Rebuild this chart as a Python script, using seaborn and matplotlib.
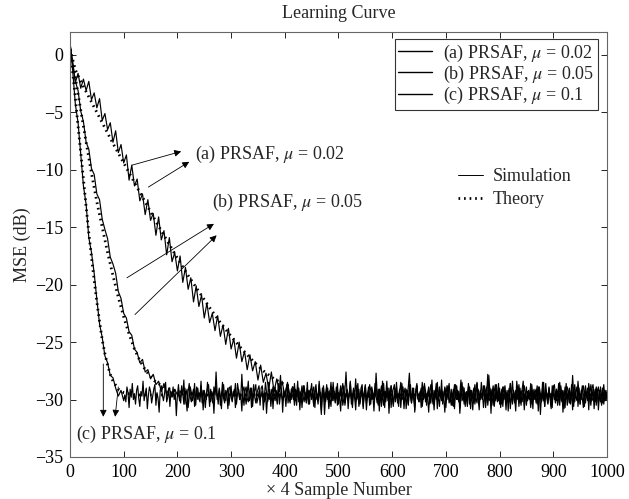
import numpy as np
import pandas as pd
import matplotlib
matplotlib.use("Agg")
import matplotlib.pyplot as plt
import seaborn as sns
from matplotlib.lines import Line2D

# ---------------- data ----------------
# transient parts (every 5 samples), steady-state parts (every 2 samples)
x_c = np.concatenate([np.arange(0, 101, 5), np.arange(102, 1001, 2)])
x_b = np.concatenate([np.arange(0, 201, 5), np.arange(202, 1001, 2)])
x_a = np.concatenate([np.arange(0, 451, 5), np.arange(452, 1001, 2)])

sim_c = [1.2, -1.4, -4.3, -5.9, -8.6, -11.4, -13.0, -15.9, -17.2, -19.0,
         -21.3, -23.4, -24.6, -26.2, -26.8, -27.9, -28.1, -29.0, -29.7, -29.2, -30.1,
         -29.6,-30.2,-28.9,-29.4,-30.7,-29.1,-29.8,-28.6,-30.0,-29.5,-30.4,-29.2,-28.8,-29.9,-30.6,-29.3,-29.7,-28.4,-30.1,-29.5,-29.0,-30.8,-29.6,-28.9,-29.3,
         -30.3,-29.7,-29.1,-28.7,-30.5,-29.4,-29.9,-31.1,-29.2,-28.8,-29.6,-30.1,-29.5,-28.5,-30.2,-29.8,-29.0,-30.6,-29.3,-29.7,-28.9,-30.0,-29.4,-31.4,-29.6,
         -28.7,-29.9,-30.3,-29.2,-29.6,-28.3,-30.4,-29.5,-29.1,-30.7,-29.8,-28.9,-29.4,-30.1,-29.7,-28.6,-30.5,-29.3,-29.0,-29.9,-30.2,-28.8,-29.5,-30.9,-29.2,
         -29.7,-30.0,-28.5,-29.4,-30.6,-29.1,-29.8,-30.3,-28.9,-29.6,-27.6,-29.5,-30.4,-29.0,-29.7,-30.8,-29.3,-28.7,-29.9,-30.1,-29.4,-29.0,-30.5,-29.6,-28.8,
         -30.2,-29.5,-29.1,-30.7,-29.8,-28.6,-29.3,-30.0,-29.6,-31.0,-29.2,-28.9,-29.7,-30.4,-29.4,-28.4,-30.1,-29.8,-29.0,-30.6,-29.5,-29.2,-28.7,-30.3,-29.9,
         -29.3,-30.5,-29.0,-28.8,-29.6,-30.2,-29.4,-31.2,-29.7,-28.5,-30.0,-29.5,-29.1,-30.8,-29.3,-28.9,-29.8,-30.4,-29.6,-29.0,-27.9,-29.7,-30.1,-29.2,-29.5,
         -30.6,-29.4,-28.7,-29.9,-30.3,-29.1,-29.6,-30.0,-28.6,-29.8,-30.5,-29.3,-29.0,-30.9,-29.5,-28.8,-29.7,-30.2,-29.4,-29.9,-28.5,-30.4,-29.6,-29.1,-30.0,
         -29.2,-28.9,-30.7,-29.5,-29.8,-30.1,-28.4,-29.6,-30.3,-29.0,-29.4,-31.3,-29.7,-28.7,-30.0,-29.3,-29.9,-30.6,-29.1,-28.9,-29.5,-30.2,-29.8,-28.6,-30.4,
         -29.6,-29.0,-30.1,-29.4,-28.8,-30.5,-29.7,-29.2,-30.8,-29.5,-28.5,-29.9,-30.3,-29.1,-29.6,-28.2,-30.0,-29.4,-30.6,-29.8,-29.0,-28.7,-30.2,-29.5,-29.3,
         -30.9,-29.6,-28.9,-29.8,-30.4,-29.2,-29.5,-30.0,-28.6,-29.7,-30.3,-29.1,-31.0,-29.4,-28.8,-29.9,-30.5,-29.3,-29.6,-28.4,-30.1,-29.7,-29.0,-30.7,-29.5,
         -29.1,-28.7,-30.2,-29.6,-29.9,-30.6,-29.3,-28.5,-29.8,-30.0,-29.4,-29.0,-30.8,-29.7,-28.9,-27.7,-29.5,-30.3,-29.2,-29.8,-30.5,-29.1,-28.6,-29.9,-30.1,
         -29.4,-30.7,-29.6,-29.0,-28.8,-30.2,-29.5,-29.9,-31.1,-29.3,-28.7,-29.7,-30.4,-29.2,-29.6,-30.0,-28.5,-29.8,-30.6,-29.4,-29.1,-30.3,-29.7,-28.9,-29.5,
         -30.0,-29.3,-28.6,-29.9,-30.5,-29.6,-29.1,-30.8,-29.4,-28.8,-29.7,-30.2,-29.5,-28.3,-30.1,-29.8,-29.0,-30.6,-29.3,-29.6,-28.9,-30.4,-29.2,-29.8,-30.9,
         -29.5,-28.7,-29.9,-30.3,-29.1,-29.6,-30.0,-28.5,-29.4,-30.7,-29.8,-29.2,-28.9,-30.5,-29.6,-29.0,-31.2,-29.4,-28.8,-29.7,-30.1,-29.3,-29.9,-28.6,-30.4,
         -29.7,-29.1,-30.6,-29.5,-28.8,-29.9,-30.2,-29.4,-29.0,-30.8,-29.6,-28.4,-29.8,-30.3,-29.2,-29.5,-30.0,-28.7,-29.7,-30.5,-29.3,-29.1,-30.9,-29.6,-28.9,
         -30.1,-29.4,-29.8,-28.6,-30.4,-29.2,-29.7,-30.0,-29.5,-28.8,-31.0,-29.3,-29.9,-30.2,-28.5,-29.6,-30.6,-29.1,-29.4,-30.3,-28.9,-29.8,-29.5,-30.7,-29.0,
         -28.7,-29.6,-30.1,-29.3,-29.9,-30.5,-28.8,-29.5,-29.2,-30.8,-29.7,-28.6,-30.0,-29.4,-29.1,-30.4,-29.8,-27.9,-29.6,-30.2,-29.3,-28.9,-30.6,-29.5,-29.7,
         -30.0,-29.2,-28.8,-29.7,-30.3,-29.5,-29.0,-30.9,-29.4,-28.7,-29.8,-30.1,-29.6,-29.1,-30.5,-29.3,-28.9,-29.9,-30.2,-29.5,-29.0,-30.4,-29.7,-29.2,-29.6]

sim_b = [0.9, -0.6, -2.3, -3.1, -4.9, -5.8, -7.6, -8.2, -9.9, -10.4,
         -12.1, -12.6, -14.3, -15.2, -16.0, -17.6, -18.2, -19.0, -20.6, -21.2,
         -22.5, -22.9, -24.1, -24.4, -25.6, -25.9, -26.8, -26.5, -27.6, -27.4,
         -28.2, -27.8, -28.7, -28.4, -29.3, -28.6, -29.5, -29.0, -29.8, -29.1, -29.6,
         -29.4,-30.1,-29.7,-28.8,-29.5,-30.4,-29.0,-29.9,-31.0,-29.3,-28.6,-29.8,-30.2,-29.5,-29.1,-30.6,-29.6,-28.9,-30.0,-29.4,-29.8,-28.4,-30.3,-29.2,-29.7,
         -30.7,-29.5,-29.0,-28.7,-29.9,-30.2,-29.3,-29.6,-31.2,-29.4,-28.8,-30.0,-29.7,-29.1,-30.5,-29.6,-28.5,-29.9,-30.3,-29.2,-29.5,-30.8,-29.0,-28.9,-29.8,
         -30.1,-29.3,-29.7,-28.6,-30.4,-29.5,-29.1,-30.0,-29.8,-27.8,-29.6,-30.5,-29.2,-28.9,-29.9,-30.2,-29.4,-29.0,-30.7,-29.6,-28.7,-29.8,-30.3,-29.5,-29.1,
         -28.8,-30.0,-29.6,-29.3,-30.9,-29.7,-28.5,-29.4,-30.2,-29.8,-29.1,-30.6,-29.5,-28.9,-29.7,-30.1,-29.2,-29.9,-28.6,-30.4,-29.6,-29.0,-31.1,-29.4,-29.8,
         -29.2,-28.7,-30.3,-29.6,-29.9,-30.0,-28.9,-29.5,-30.5,-29.1,-29.7,-28.4,-30.2,-29.8,-29.3,-30.7,-29.5,-28.8,-29.6,-30.1,-29.0,-29.9,-30.4,-29.3,-28.6,
         -29.8,-30.6,-29.4,-29.1,-30.0,-29.6,-28.7,-29.9,-31.3,-29.5,-29.0,-30.2,-29.7,-28.9,-29.4,-30.8,-29.2,-29.8,-30.1,-28.5,-29.6,-30.3,-29.5,-29.1,-30.0,
         -29.7,-28.8,-29.4,-30.5,-29.9,-29.2,-27.6,-29.6,-30.1,-29.5,-28.9,-30.4,-29.8,-29.0,-29.7,-30.9,-29.3,-28.6,-29.9,-30.2,-29.6,-29.1,-30.6,-29.4,-28.8,
         -30.3,-29.5,-29.8,-28.7,-29.2,-30.0,-29.6,-31.0,-29.4,-28.9,-29.7,-30.5,-29.1,-29.9,-30.2,-28.4,-29.5,-30.7,-29.3,-29.8,-29.0,-30.1,-29.6,-28.8,-29.4,
         -30.6,-29.7,-29.2,-28.9,-30.3,-29.5,-29.9,-30.0,-28.6,-29.4,-30.8,-29.6,-29.1,-29.8,-30.4,-29.3,-28.7,-30.1,-29.7,-29.0,-31.1,-29.5,-28.8,-29.9,-30.2,
         -29.3,-29.6,-28.5,-30.0,-29.8,-29.2,-30.5,-29.4,-28.9,-29.7,-30.3,-29.1,-29.6,-30.9,-29.5,-28.6,-29.9,-30.1,-29.3,-29.8,-28.3,-30.4,-29.6,-29.0,-30.7,
         -29.5,-28.8,-29.9,-30.2,-29.4,-29.7,-30.6,-29.1,-28.7,-29.6,-30.0,-29.3,-31.2,-29.8,-29.0,-28.9,-30.4,-29.5,-29.7,-30.1,-28.6,-29.4,-30.8,-29.2,-29.9,
         -30.3,-29.6,-29.0,-28.5,-29.8,-30.5,-29.3,-29.7,-30.0,-29.2,-28.8,-30.7,-29.5,-29.9,-27.9,-29.4,-30.2,-29.6,-29.1,-30.6,-29.8,-28.7,-29.5,-30.1,-29.3,
         -29.7,-30.4,-29.0,-28.9,-29.6,-30.9,-29.4,-29.8,-30.2,-28.6,-29.5,-30.0,-29.2,-29.7,-31.0,-29.3,-28.8,-29.9,-30.3,-29.6,-29.1,-28.4,-30.5,-29.5,-29.8,
         -30.1,-29.2,-29.6,-30.7,-28.7,-29.9,-30.0,-29.4,-29.1,-30.4,-29.7,-28.9,-29.5,-30.2,-29.8,-28.5,-30.6,-29.3,-29.6,-30.0,-29.0,-29.9,-30.8,-29.4,-28.8,
         -29.6,-30.3,-29.1,-29.8,-28.6,-30.1,-29.5,-29.2,-31.1,-29.7,-28.9,-29.4,-30.5,-29.9,-29.0,-30.2,-28.7,-29.6,-30.6,-29.3,-29.8,-30.0,-28.4,-29.5,-30.4,
         -29.2,-29.9,-30.7,-29.4,-28.8,-29.6,-30.1,-29.3,-29.8,-30.5,-29.0,-28.7,-29.7,-30.2,-29.5,-29.1,-30.9,-29.6,-28.9,-29.8,-30.3,-29.4,-29.2,-30.0,-29.6]

sim_a = [1.0, -0.8, -2.4, -1.6, -2.9, -2.1, -3.1, -2.3, -3.9, -3.3,
         -4.6, -3.8, -5.7, -5.1, -6.5, -5.9, -7.6, -6.6, -8.5, -7.8,
         -9.4, -8.7, -10.9, -9.6, -11.4, -10.8, -12.7, -12.1, -13.9, -12.6,
         -14.4, -13.8, -15.7, -14.1, -16.1, -15.3, -17.4, -15.9, -18.0, -17.2,
         -18.8, -17.5, -19.8, -18.5, -20.4, -19.4, -21.5, -20.1, -21.9, -20.9,
         -22.9, -21.6, -23.3, -22.5, -24.0, -22.7, -24.5, -23.5, -25.2, -23.8,
         -25.6, -24.7, -26.4, -25.0, -26.7, -25.8, -27.4, -26.1, -27.5, -26.7,
         -28.3, -27.0, -28.5, -27.7, -29.1, -27.6, -29.3, -28.2, -29.3, -28.4,
         -29.7, -28.5, -29.8, -28.9, -30.1, -29.0, -30.0, -28.8, -30.3, -29.2, -29.8,
         -29.5,-30.0,-29.3,-28.7,-29.8,-30.4,-29.1,-29.6,-30.9,-29.4,-28.8,-29.9,-30.2,-29.6,-29.0,-30.6,-29.5,-28.5,-29.7,-30.1,-29.3,-29.9,-28.9,-30.5,-29.4,
         -29.8,-31.0,-29.2,-28.6,-29.7,-30.3,-29.5,-29.1,-30.0,-29.6,-28.4,-29.9,-30.7,-29.3,-29.8,-30.2,-28.8,-29.5,-29.1,-30.4,-29.7,-29.0,-30.8,-29.4,-28.7,
         -30.1,-29.6,-29.2,-30.5,-29.8,-28.9,-29.4,-30.0,-29.7,-27.7,-29.5,-30.3,-29.1,-29.9,-30.6,-29.3,-28.6,-29.8,-30.2,-29.5,-29.0,-31.2,-29.6,-28.8,-29.7,
         -30.4,-29.3,-29.9,-28.5,-30.0,-29.6,-29.1,-30.7,-29.4,-28.9,-29.8,-30.1,-29.5,-29.2,-30.5,-28.7,-29.7,-30.3,-29.0,-29.6,-30.9,-29.4,-28.8,-29.9,-30.2,
         -29.5,-29.0,-30.6,-29.7,-28.6,-29.3,-30.0,-29.8,-29.2,-30.4,-29.6,-28.3,-29.9,-30.2,-29.4,-29.1,-30.8,-29.5,-28.9,-29.7,-30.1,-29.3,-29.8,-31.1,-29.6,
         -28.8,-29.4,-30.3,-29.9,-29.1,-30.5,-29.6,-28.7,-29.8,-30.0,-29.2,-29.5,-30.7,-29.0,-28.5,-29.7,-30.2,-29.4,-29.9,-30.6,-29.3,-28.9,-29.6,-30.1,-29.5,
         -29.0,-30.4,-29.7,-28.6,-29.8,-30.9,-29.2,-29.5,-30.0,-28.8,-29.6,-30.3,-29.4,-27.8,-29.9,-30.1,-29.1,-29.7,-30.5,-29.3,-28.7,-29.8,-30.2,-29.6,-29.0,
         -30.7,-29.5,-28.9,-29.4,-30.0,-29.8,-29.2,-31.0,-29.6,-28.6,-29.9,-30.4,-29.3,-29.7,-30.1,-28.4,-29.5,-30.6,-29.0,-29.8,-30.2,-29.4,-28.8,-29.6,-30.5,
         -29.3,-29.9,-30.0,-28.7,-29.5,-30.8,-29.1,-29.6,-30.3,-29.8,-28.9,-29.4,-31.3,-29.7,-29.0,-30.1,-29.5,-28.6,-29.9,-30.4,-29.2,-29.7,-30.6,-28.8,-29.5,
         -30.0,-29.4,-29.1,-30.5,-29.8,-28.5,-29.6,-30.2,-29.3,-29.9,-30.7,-29.0,-28.9,-29.5,-30.3,-29.7,-29.2,-30.9,-29.4,-28.7,-29.8,-30.1,-29.6,-29.0,-30.4,
         -29.5,-28.8,-29.9,-30.6,-29.3,-29.7,-30.0,-28.6,-29.4,-30.2,-29.8,-29.1,-30.8,-29.5,-28.9,-29.6,-30.3,-29.2,-29.9,-30.5,-29.4,-28.7,-29.8,-30.1,-29.6]

x_th_c = [0, 5, 10, 15, 20, 25, 30, 35, 40, 45, 50, 55, 60, 65, 70, 75, 80, 90, 100, 120, 1000]
th_c = [0.5, -1.5, -3.8, -6.2, -8.5, -10.8, -13.2, -15.5, -17.6, -19.6, -21.5,
        -23.2, -24.8, -26.0, -27.0, -27.8, -28.4, -29.1, -29.4, -29.6, -29.6]

x_th_b = [0, 10, 20, 30, 40, 50, 60, 70, 80, 90, 100, 110, 120, 130, 140, 150,
          160, 180, 200, 250, 1000]
th_b = [0.5, -2.0, -4.8, -7.6, -10.3, -12.8, -15.0, -17.2, -19.2, -21.1, -22.8,
        -24.3, -25.6, -26.6, -27.4, -28.0, -28.5, -29.0, -29.3, -29.6, -29.6]

x_th_a = [0, 10, 20, 30, 40, 50, 60, 80, 100, 120, 140, 160, 180, 200, 220, 240,
          260, 280, 300, 320, 340, 360, 380, 400, 420, 450, 500, 1000]
th_a = [0.5, -1.3, -2.3, -3.2, -4.1, -5.0, -5.9, -7.7, -9.4, -11.1, -12.8, -14.5,
        -16.1, -17.7, -19.2, -20.6, -22.0, -23.3, -24.5, -25.6, -26.6, -27.5,
        -28.2, -28.7, -29.1, -29.4, -29.6, -29.6]

legend_labels = [r"(a) PRSAF, $\mu$ = 0.02", r"(b) PRSAF, $\mu$ = 0.05", r"(c) PRSAF, $\mu$ = 0.1"]
x_ticks = [0, 100, 200, 300, 400, 500, 600, 700, 800, 900, 1000]
y_ticks = [0, -5, -10, -15, -20, -25, -30, -35]

# ---------------- style ----------------
sns.set_theme(style="white")
plt.rcParams["font.family"] = ["Liberation Serif", "DejaVu Serif"]
plt.rcParams["mathtext.fontset"] = "stix"
plt.rcParams["axes.unicode_minus"] = True

fig = plt.figure(figsize=(6.29, 4.99), dpi=100)
ax = fig.add_axes([0.1113, 0.0842, 0.8537, 0.8517])

FS = 13
LFS = 13
sim_lw = 0.85
dot_style = (0, (0.6, 1.4))
for xs, ys in ((x_a, sim_a), (x_b, sim_b), (x_c, sim_c)):
    sns.lineplot(x=xs, y=ys, ax=ax, color="black", lw=sim_lw, sort=False,
                 estimator=None)
for xs, ys in ((x_th_a, th_a), (x_th_b, th_b), (x_th_c, th_c)):
    sns.lineplot(x=xs, y=ys, ax=ax, color="black", lw=2.0, sort=False,
                 estimator=None, linestyle=dot_style)

ax.set_xlim(0, 1000)
ax.set_ylim(-35, 2)
ax.set_xticks(x_ticks)
ax.set_yticks(y_ticks)
ax.set_xticklabels([str(v) for v in x_ticks], fontsize=FS)
ax.set_yticklabels([f"{v}".replace("-", "\u2212") for v in y_ticks], fontsize=FS)
ax.tick_params(axis="x", direction="in", length=4, width=0.6, top=True,
               bottom=True, colors="black", pad=5)
ax.tick_params(axis="y", direction="in", length=4, width=0.6, left=True,
               right=True, colors="black", pad=5)
for sp in ax.spines.values():
    sp.set_color("#666666")
    sp.set_linewidth(0.8)

ax.set_xlabel("\u00d7 4 Sample Number", fontsize=FS, labelpad=1)
ax.set_ylabel("MSE (dB)", fontsize=FS, labelpad=3)
ax.set_title("Learning Curve", fontsize=FS, pad=10)

# legend for curves
handles = [Line2D([], [], color="black", lw=1.0) for _ in legend_labels]
leg = ax.legend(handles, legend_labels, loc="upper right",
                bbox_to_anchor=(0.983, 0.9835), fontsize=LFS, frameon=True,
                fancybox=False, shadow=False, handlelength=1.9,
                handletextpad=0.6, labelspacing=0.0, borderpad=0.2,
                borderaxespad=0.0)
leg.get_frame().set_edgecolor("black")
leg.get_frame().set_linewidth(0.8)
ax.add_artist(leg)

# sim / theory key
kh = [Line2D([], [], color="black", lw=0.7),
      Line2D([], [], color="black", lw=2.0, linestyle=dot_style)]
leg2 = ax.legend(kh, ["Simulation", "Theory"], loc="upper left",
                 bbox_to_anchor=(0.7225, 0.68), fontsize=FS, frameon=False,
                 handlelength=1.4, handletextpad=0.5, labelspacing=0.35,
                 borderpad=0.0, borderaxespad=0.0)

# annotations
ap = dict(arrowstyle="-|>", color="black", lw=0.6, mutation_scale=10,
          shrinkA=0, shrinkB=0)
ax.text(233, -8.7, legend_labels[0], fontsize=FS, va="center", ha="left")
ax.annotate("", xy=(207, -8.4), xytext=(115, -9.6), arrowprops=ap)
ax.annotate("", xy=(222, -9.3), xytext=(146, -11.5), arrowprops=ap)

ax.text(264, -12.8, legend_labels[1], fontsize=FS, va="center", ha="left")
ax.annotate("", xy=(268, -14.7), xytext=(106, -19.4), arrowprops=ap)
ax.annotate("", xy=(273, -15.7), xytext=(121, -22.6), arrowprops=ap)

ax.text(12, -33.0, legend_labels[2], fontsize=FS, va="center", ha="left")
ax.annotate("", xy=(62, -31.5), xytext=(62, -26.9), arrowprops=ap)
ax.annotate("", xy=(84, -31.5), xytext=(90, -28.9), arrowprops=ap)

fig.savefig("out.png", dpi=100)
